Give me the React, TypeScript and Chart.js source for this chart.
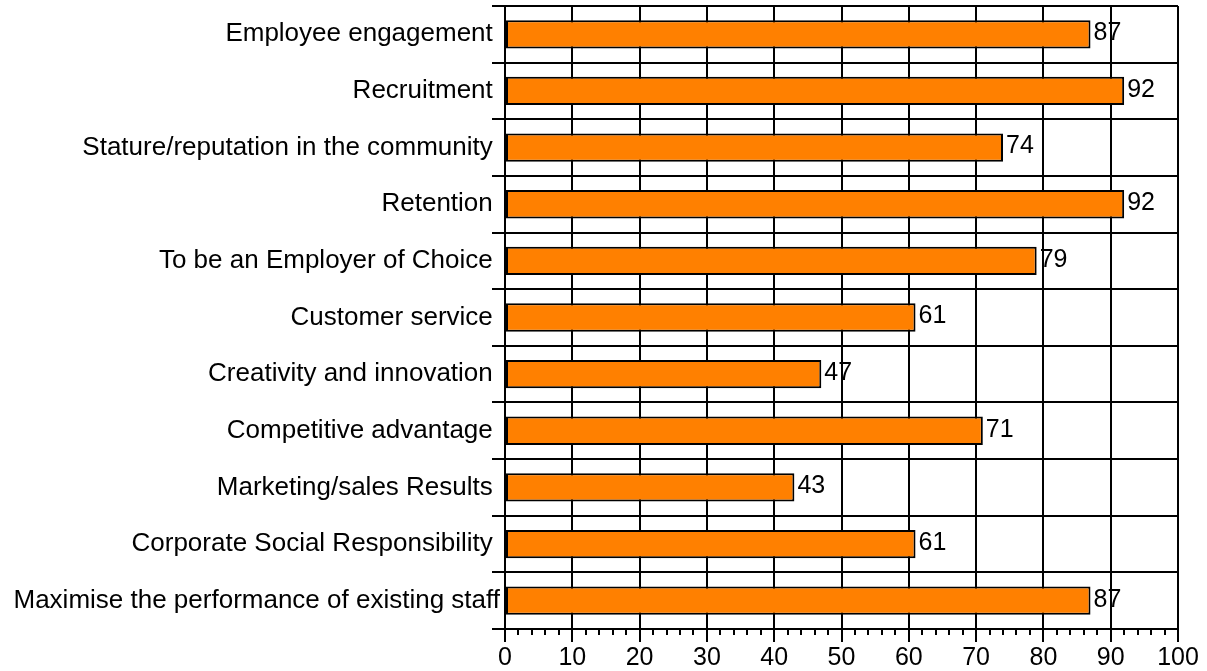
import React, { useEffect, useRef } from 'react';
import { Chart, registerables } from 'chart.js';

Chart.register(...registerables);

const categories = [
  'Employee engagement ',
  'Recruitment ',
  'Stature/reputation in the community ',
  'Retention ',
  'To be an Employer of Choice ',
  'Customer service ',
  'Creativity and innovation ',
  'Competitive advantage ',
  'Marketing/sales Results ',
  'Corporate Social Responsibility ',
  'Maximise the performance of existing staff',
];
const values = [87, 92, 74, 92, 79, 61, 47, 71, 43, 61, 87];
const xMin = 0;
const xMax = 100;
const xMajorStep = 10;
const xMinorStep = 2;

const FONT = "'Liberation Sans', Arial, Helvetica, sans-serif";

export default function App() {
  const ref = useRef<HTMLCanvasElement | null>(null);

  useEffect(() => {
    document.body.style.margin = '0';
    const canvas = ref.current;
    if (!canvas) return;

    const dataLabels = {
      id: 'dataLabels',
      afterDatasetsDraw(chart: any) {
        const ctx = chart.ctx;
        const meta = chart.getDatasetMeta(0);
        ctx.save();
        ctx.font = `25px ${FONT}`;
        ctx.fillStyle = '#000';
        ctx.textAlign = 'left';
        ctx.textBaseline = 'middle';
        meta.data.forEach((bar: any, i: number) => {
          ctx.fillText(String(values[i]), bar.x + 3, bar.y - 1);
        });
        ctx.restore();
      },
    };

    const minorTicks = {
      id: 'minorTicks',
      afterDraw(chart: any) {
        const xs = chart.scales.x;
        const ctx = chart.ctx;
        ctx.save();
        ctx.strokeStyle = '#000';
        ctx.lineWidth = 2;
        for (let v = xMin; v <= xMax; v += xMinorStep) {
          if (v % xMajorStep === 0) continue;
          const px = Math.round(xs.getPixelForValue(v));
          ctx.beginPath();
          ctx.moveTo(px, xs.top);
          ctx.lineTo(px, xs.top + 6);
          ctx.stroke();
        }
        ctx.restore();
      },
    };

    const chart = new Chart(canvas, {
      type: 'bar',
      data: {
        labels: categories,
        datasets: [
          {
            data: values,
            backgroundColor: 'rgb(255,128,0)',
            borderColor: '#000',
            borderWidth: 2,
            borderSkipped: false,
            categoryPercentage: 1,
            barPercentage: 0.5,
          },
        ],
      },
      options: {
        indexAxis: 'y',
        responsive: false,
        animation: false,
        devicePixelRatio: 1,
        layout: { padding: { top: 6, right: 29, left: 0, bottom: 0 } },
        plugins: {
          legend: { display: false },
          tooltip: { enabled: false },
        },
        scales: {
          x: {
            type: 'linear',
            position: 'bottom',
            min: xMin,
            max: xMax,
            ticks: {
              stepSize: xMajorStep,
              color: '#000',
              font: { family: FONT, size: 25 },
              padding: 1,
              maxRotation: 0,
            },
            grid: {
              color: '#000',
              lineWidth: 2,
              drawTicks: true,
              tickLength: 13,
              tickColor: '#000',
            },
            border: { display: true, color: '#000', width: 2 },
            afterFit(scale: any) {
              scale.height = 42;
              scale.paddingLeft = 0;
              scale.paddingRight = 0;
            },
          },
          y: {
            type: 'category',
            position: 'left',
            offset: true,
            ticks: {
              color: '#000',
              font: { family: FONT, size: 26 },
              padding: -8,
              autoSkip: false,
            },
            grid: {
              offset: true,
              color: '#000',
              lineWidth: 2,
              drawTicks: true,
              tickLength: 13,
              tickColor: '#000',
            },
            border: { display: true, color: '#000', width: 2 },
            afterFit(scale: any) {
              scale.width = 505;
              scale.paddingTop = 0;
              scale.paddingBottom = 0;
            },
          },
        },
      },
      plugins: [dataLabels, minorTicks],
    });

    return () => chart.destroy();
  }, []);

  return (
    <div style={{ width: 1207, height: 671 }}>
      <canvas ref={ref} width={1207} height={671} style={{ display: 'block' }} />
    </div>
  );
}
